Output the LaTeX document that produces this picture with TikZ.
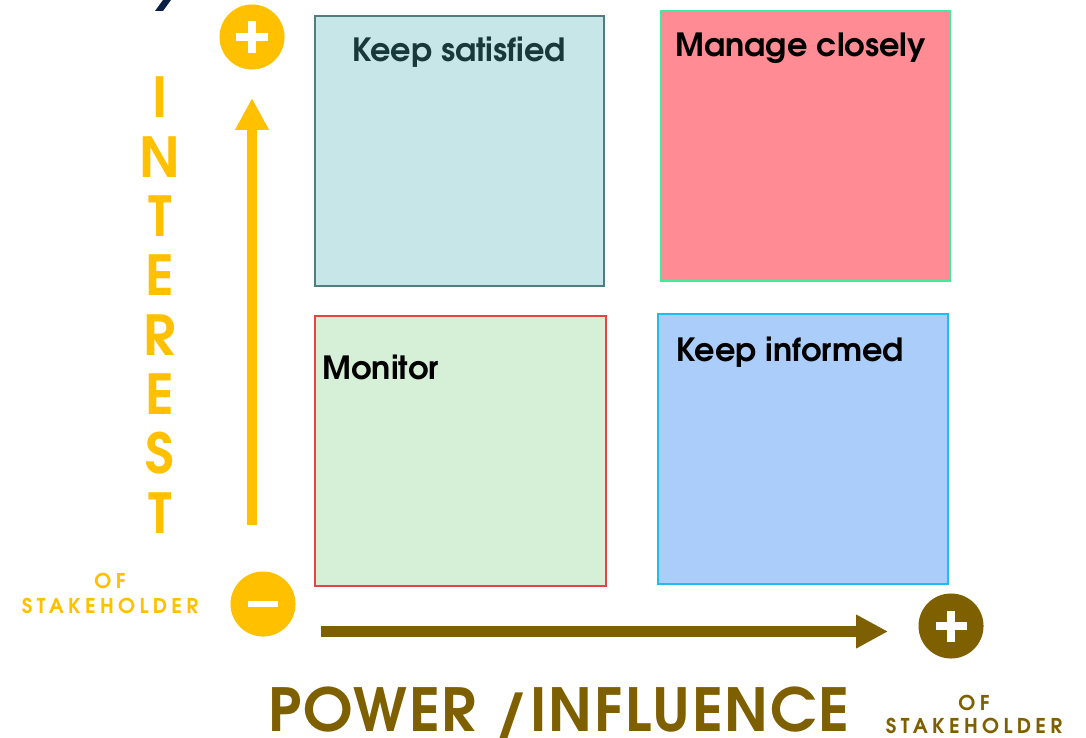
\documentclass[tikz,border=0pt]{standalone}
\usepackage{fontspec}
\setmainfont{TeX Gyre Adventor}
\newfontfamily\trackfont[LetterSpace=21]{TeX Gyre Adventor}
\newfontfamily\axisfont[LetterSpace=3]{TeX Gyre Adventor}
\usepackage{xcolor}
\definecolor{GoldYellow}{HTML}{FFC000}
\definecolor{GoldBrown}{HTML}{7F6000}
\definecolor{NavyInk}{HTML}{0B1F45}
\definecolor{SatFill}{HTML}{C7E6E8}
\definecolor{SatLine}{HTML}{507E80}
\definecolor{SatText}{HTML}{18393B}
\definecolor{ManFill}{HTML}{FF8C94}
\definecolor{ManLine}{HTML}{3CEE9C}
\definecolor{MonFill}{HTML}{D6F0D8}
\definecolor{MonLine}{HTML}{E84343}
\definecolor{InfFill}{HTML}{AACEF9}
\definecolor{InfLine}{HTML}{22BBEE}
\usepackage{tikz}
\usetikzlibrary{arrows.meta}
\tikzstyle{quad}=[rectangle,anchor=north west,inner sep=0,line width=0.6pt,minimum width=2.89cm,minimum height=2.7cm]
\tikzstyle{quadlabel}=[inner sep=0,font=\bfseries\fontsize{9.1}{11}\selectfont]
\tikzstyle{sign}=[circle,inner sep=0,minimum size=0.65cm]
\tikzstyle{plussign}=[sign,path picture={\draw[white,line width=2.1pt] (path picture bounding box.center) +(-0.155cm,0) -- +(0.155cm,0) (path picture bounding box.center) +(0,-0.155cm) -- +(0,0.155cm);}]
\tikzstyle{minussign}=[sign,path picture={\draw[white,line width=1.8pt] (path picture bounding box.center) +(-0.15cm,0) -- +(0.15cm,0);}]
\tikzstyle{axisarrow}=[line width=3pt,-{Triangle[length=9.1pt,width=9pt]}]
\tikzstyle{stake}=[inner sep=0,font=\trackfont\bfseries\fontsize{5.8}{7}\selectfont]

\begin{document}
\begin{tikzpicture}[x=0.01cm, y=-0.01cm]
		\useasboundingbox (0,0) rectangle (1086,737);
		
		% Title remnant
		\fill[NavyInk] (155,11) -- (163,11) -- (171,0) -- (163,0) -- cycle;
		
		% Quadrants
		\node[quad, fill=SatFill, draw=SatLine] (sat) at (314,15) {};
		\node[quad, fill=ManFill, draw=ManLine] (man) at (660,10) {};
		\node[quad, fill=MonFill, draw=MonLine, minimum width=2.91cm] (mon) at (314,315) {};
		\node[quad, fill=InfFill, draw=InfLine, minimum width=2.9cm] (inf) at (657,313) {};
		
		% Quadrant labels
		\node[quadlabel, SatText, anchor=base] (satlbl) at (459,62) {Keep satisfied};
		\node[quadlabel, anchor=base west] (manlbl) at (675,57) {Manage closely};
		\node[quadlabel, anchor=base west] (monlbl) at (322,379) {Monitor};
		\node[quadlabel, anchor=base west] (inflbl) at (676,361) {Keep informed};
		
		% Signs
		\node[plussign, fill=GoldYellow] (intplus) at (252,37) {};
		\node[minussign, fill=GoldYellow] (minus) at (263,604) {};
		\node[plussign, fill=GoldBrown] (powplus) at (951,626) {};
		
		% Axes
		\coordinate (ybase) at (252,525);
		\coordinate (ytip) at (252,98);
		\coordinate (xbase) at (321,631.5);
		\coordinate (xtip) at (888,631.5);
		\draw[axisarrow, GoldYellow] (ybase) -- (ytip);
		\draw[axisarrow, GoldBrown] (xbase) -- (xtip);
		
		% Interest letters
		\foreach \ch [count=\i from 0] in {I,N,T,E,R,E,S,T}
			\node[inner sep=0, anchor=base, GoldYellow, font=\bfseries\fontsize{15.7}{18}\selectfont] (int\i) at (160,118+59.3*\i) {\ch};
		
		% Power / influence
		\node[inner sep=0, anchor=base west, GoldBrown, font=\axisfont\bfseries\fontsize{16.9}{20}\selectfont] (power) at (268,731) {POWER /INFLUENCE};
		
		% Of stakeholder
		\node[stake, anchor=base, GoldYellow] (stakeL) at (110,613) {STAKEHOLDER};
		\node[stake, anchor=base, GoldYellow] (ofL) at (110,588) {OF};
		\node[stake, anchor=base, GoldBrown] (stakeR) at (974,733) {STAKEHOLDER};
		\node[stake, anchor=base, GoldBrown] (ofR) at (974,710) {OF};
	\end{tikzpicture}
\end{document}
